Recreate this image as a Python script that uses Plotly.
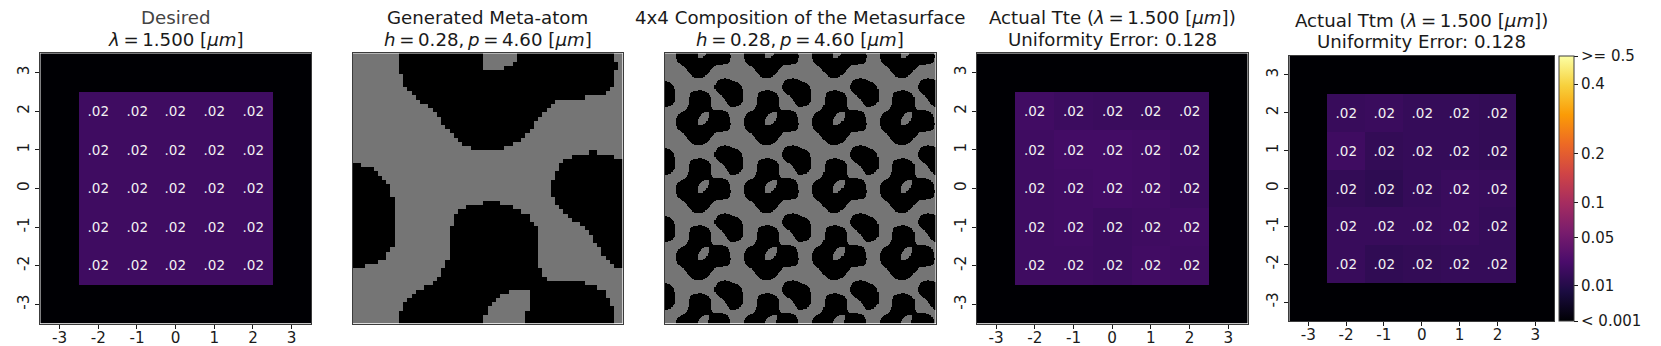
import numpy as np
import plotly.graph_objects as go
import plotly.express as px

W, H = 1661, 346
FONT = "DejaVu Sans"

TICKS = [-3, -2, -1, 0, 1, 2, 3]
TICK_TEXT = ["-3", "-2", "-1", "0", "1", "2", "3"]
CELL_LABEL = ".02"

# transmission, rows top (y=2) to bottom (y=-2), columns x=-2..2
DESIRED = [
    [.020, .020, .020, .020, .020],
    [.020, .020, .020, .020, .020],
    [.020, .020, .020, .020, .020],
    [.020, .020, .020, .020, .020],
    [.020, .020, .020, .020, .020],
]
ACTUAL_TE = [
    [.021, .019, .018, .018, .019],
    [.020, .022, .022, .021, .019],
    [.020, .021, .022, .021, .019],
    [.020, .021, .019, .020, .021],
    [.020, .020, .019, .021, .020],
]
ACTUAL_TM = [
    [.017, .018, .016, .016, .015],
    [.020, .015, .016, .016, .015],
    [.015, .013, .016, .018, .017],
    [.017, .017, .017, .018, .016],
    [.017, .014, .015, .016, .016],
]

CBAR_VALUES = [0.001, 0.01, 0.05, 0.1, 0.2, 0.4, 0.5]
CBAR_LABELS = ["< 0.001", "0.01", "0.05", "0.1", "0.2", "0.4", ">= 0.5"]
VMIN = 0.001
VMAX = 0.5

# black runs [start, end) of each row of the 64x64 meta-atom, top row first
ATOM_BLACK_RUNS = [
    [(11, 31), (39, 62)], [(11, 31), (39, 62)], [(11, 31), (38, 63)], [(11, 31), (36, 63)],
    [(11, 62)], [(12, 62)], [(12, 62)], [(12, 62)],
    [(13, 61)], [(14, 60)], [(15, 55)], [(16, 48)],
    [(18, 47)], [(19, 46)], [(20, 45)], [(21, 44)],
    [(21, 43)], [(22, 43)], [(23, 42)], [(24, 41)],
    [(25, 40)], [(26, 38)], [(28, 36)], [(56, 58)],
    [(52, 62)], [(50, 64)], [(0, 2), (49, 64)], [(0, 5), (49, 64)],
    [(0, 6), (48, 64)], [(0, 7), (48, 64)], [(0, 8), (47, 64)], [(0, 9), (47, 64)],
    [(0, 9), (47, 64)], [(0, 9), (47, 64)], [(0, 10), (48, 64)], [(0, 10), (31, 35), (48, 64)],
    [(0, 10), (27, 38), (49, 64)], [(0, 10), (25, 40), (50, 64)], [(0, 10), (24, 42), (51, 64)], [(0, 10), (24, 42), (52, 64)],
    [(0, 10), (24, 43), (54, 64)], [(0, 10), (23, 44), (55, 64)], [(0, 10), (23, 44), (56, 64)], [(0, 10), (23, 44), (57, 64)],
    [(0, 10), (23, 44), (57, 64)], [(0, 10), (23, 44), (58, 64)], [(0, 9), (23, 44), (59, 64)], [(0, 8), (23, 44), (59, 64)],
    [(0, 8), (23, 44), (60, 64)], [(0, 6), (22, 44), (61, 64)], [(0, 3), (22, 44), (62, 64)], [(21, 45)],
    [(21, 45)], [(20, 46)], [(19, 55)], [(17, 58)],
    [(15, 37), (42, 60)], [(14, 35), (42, 60)], [(13, 34), (42, 61)], [(12, 33), (42, 61)],
    [(12, 32), (42, 62)], [(11, 32), (41, 62)], [(11, 31), (41, 62)], [(11, 31), (41, 62)],
]

TS = "\u2009"
TITLE_LAMBDA = f"<i>λ</i>{TS}={TS}1.500 [<i>μm</i>]"
TITLE_GEOM = f"<i>h</i>{TS}={TS}0.28,{TS}<i>p</i>{TS}={TS}4.60 [<i>μm</i>]"
TITLES = [
    ("Desired", TITLE_LAMBDA),
    ("Generated Meta-atom", TITLE_GEOM),
    ("4x4 Composition of the Metasurface", TITLE_GEOM),
    (f"Actual Tte ({TITLE_LAMBDA})", "Uniformity Error: 0.128"),
    (f"Actual Ttm ({TITLE_LAMBDA})", "Uniformity Error: 0.128"),
]

# panel boxes in pixels: left, right, top, bottom
BOXES = [
    (40.3, 311.0, 53.3, 323.7),
    (352.5, 622.7, 53.3, 323.7),
    (664.7, 935.7, 53.3, 323.7),
    (976.7, 1247.7, 53.3, 323.7),
    (1289.3, 1554.3, 56.0, 321.0),
]
CBAR_BOX = (1559.3, 1574.0)

atom = np.ones((64, 64))
for r, runs in enumerate(ATOM_BLACK_RUNS):
    for a, b in runs:
        atom[r, a:b] = 0
composition = np.tile(atom, (4, 4))


def norm(v):
    v = np.asarray(v, dtype=float)
    return np.sqrt(np.clip(v - VMIN, 0, None) / (VMAX - VMIN))


def full_grid(inner):
    g = np.zeros((7, 7))
    g[1:6, 1:6] = inner
    return g


LABELS = [["" for _ in TICKS]] + [["", *[CELL_LABEL] * 5, ""] for _ in range(5)] + [["" for _ in TICKS]]

fig = go.Figure()
INK = "#1a1a1a"
EDGE = "#3c3c3c"
GREY = [[0, "#000000"], [1, "#757575"]]
TITLE_SIZE = 18.2
TICK_SIZE = 15.2


def axis_ids(i):
    s = "" if i == 0 else str(i + 1)
    return f"x{s}", f"y{s}", f"xaxis{s}", f"yaxis{s}"


for i, box in enumerate(BOXES):
    xr, yr, xk, yk = axis_ids(i)
    l, r, t, b = box
    common = dict(showgrid=False, zeroline=False, showline=True, mirror=True,
                  linecolor=EDGE, linewidth=1, layer="above traces")
    dom_x = [l / W, r / W]
    dom_y = [(H - b) / H, (H - t) / H]
    if i in (1, 2):
        mask = atom if i == 1 else composition
        fig.add_trace(go.Heatmap(z=mask, colorscale=GREY, zmin=0, zmax=1, showscale=False,
                                 xaxis=xr, yaxis=yr, hoverinfo="skip"))
        n = mask.shape[0]
        fig.update_layout({
            xk: dict(domain=dom_x, anchor=yr, range=[-0.5, n - 0.5], showticklabels=False, ticks="", **common),
            yk: dict(domain=dom_y, anchor=xr, range=[n - 0.5, -0.5], showticklabels=False, ticks="", **common),
        })
    else:
        vals = {0: DESIRED, 3: ACTUAL_TE, 4: ACTUAL_TM}[i]
        trace = dict(
            x=TICKS, y=TICKS[::-1], z=norm(full_grid(vals)), zmin=0, zmax=1,
            colorscale=px.colors.sequential.Inferno,
            text=LABELS, texttemplate="%{text}",
            textfont=dict(family=FONT, size=13.5, color="#f2f2f2"),
            xaxis=xr, yaxis=yr, hoverinfo="skip", showscale=(i == 4),
        )
        if i == 4:
            trace["colorbar"] = dict(
                x=CBAR_BOX[0] / W, xanchor="left", xref="paper",
                y=(H - b) / H, yanchor="bottom", yref="paper",
                len=(b - t) / H, lenmode="fraction",
                thickness=CBAR_BOX[1] - CBAR_BOX[0], thicknessmode="pixels",
                xpad=0, ypad=0,
                tickmode="array", tickvals=norm(CBAR_VALUES).tolist(), ticktext=CBAR_LABELS,
                ticks="outside", ticklen=4, tickwidth=1, tickcolor=INK,
                tickfont=dict(family=FONT, size=15, color=INK),
                outlinecolor=EDGE, outlinewidth=1,
            )
        fig.add_trace(go.Heatmap(**trace))
        tickstyle = dict(tickmode="array", tickvals=TICKS, ticktext=TICK_TEXT, ticks="outside",
                         ticklen=4, tickwidth=1, tickcolor=INK,
                         tickfont=dict(family=FONT, size=TICK_SIZE, color=INK))
        fig.update_layout({
            xk: dict(domain=dom_x, anchor=yr, range=[-3.5, 3.5], ticklabelstandoff=-4, **tickstyle, **common),
            yk: dict(domain=dom_y, anchor=xr, range=[-3.5, 3.5], tickangle=-90, **tickstyle, **common),
        })

    cx = (l + r) / 2 / W
    color = "#444444" if i == 0 else INK
    offs = t - 53.3
    for line, txt, base in ((0, TITLES[i][0], 17.5), (1, TITLES[i][1], 39)):
        fig.add_annotation(
            xref="paper", yref="paper", x=cx, y=(H - (base + offs)) / H,
            text=txt, showarrow=False, xanchor="center", yanchor="middle",
            font=dict(family=FONT, size=TITLE_SIZE, color=color if line == 0 else INK),
        )

fig.update_layout(
    width=W, height=H, margin=dict(l=0, r=0, t=0, b=0, autoexpand=False),
    paper_bgcolor="white", plot_bgcolor="white", showlegend=False,
    font=dict(family=FONT),
)
fig.write_html("out.html", config=dict(displayModeBar=False),
               post_script="document.body.style.margin='0';document.body.style.overflow='hidden';")
